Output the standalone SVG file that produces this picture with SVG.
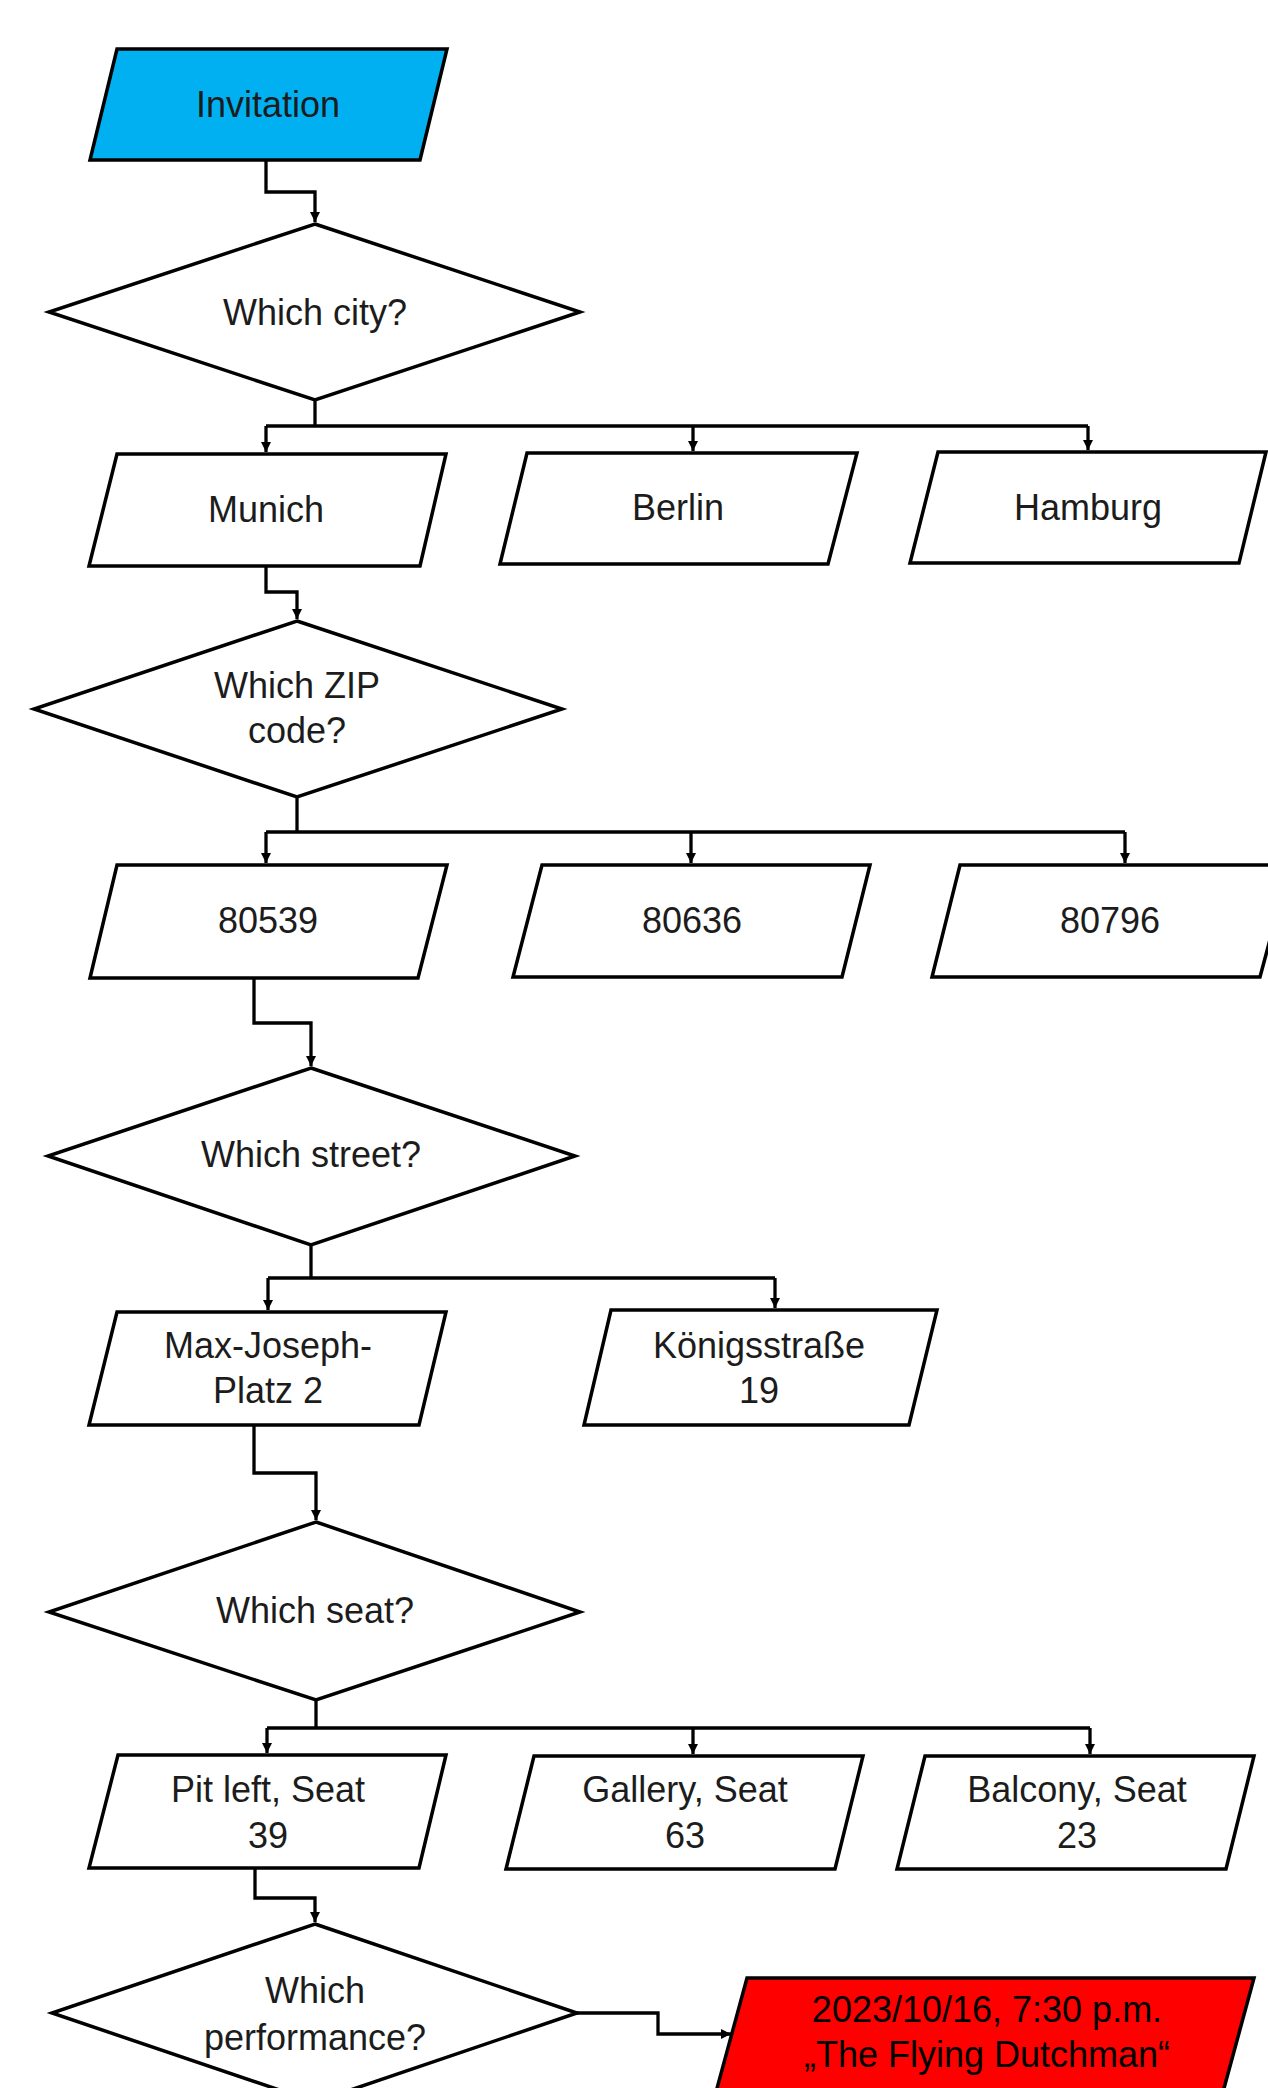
<svg xmlns="http://www.w3.org/2000/svg" width="1268" height="2088" viewBox="0 0 1268 2088">
<style>
.shape{fill:#fff;stroke:#000;stroke-width:3.5;stroke-linejoin:miter}
.blue{fill:#00B0F0}
.red{fill:#FF0000}
.conn{fill:none;stroke:#000;stroke-width:3.3}
.t{font-family:"Liberation Sans",Arial,sans-serif;font-size:36px;fill:#1c1c1c;text-anchor:middle}
.tb{fill:#000}
</style>
<defs>
<marker id="arr" viewBox="0 0 10 10" refX="10" refY="5" markerWidth="11" markerHeight="10" markerUnits="userSpaceOnUse" orient="auto">
<path d="M0,0 L10,5 L0,10 z" fill="#000"/>
</marker>
</defs>
<rect width="1268" height="2088" fill="#fff"/>
<g id="connectors">
<path class="conn" d="M266,160 V192 H315 V222" marker-end="url(#arr)"/>
<path class="conn" d="M315,400 V426"/>
<path class="conn" d="M266,426 H1088"/>
<path class="conn" d="M266,426 V452" marker-end="url(#arr)"/>
<path class="conn" d="M693,426 V451" marker-end="url(#arr)"/>
<path class="conn" d="M1088,426 V450" marker-end="url(#arr)"/>
<path class="conn" d="M266,566 V592 H297 V619" marker-end="url(#arr)"/>
<path class="conn" d="M297,797 V832"/>
<path class="conn" d="M266,832 H1125"/>
<path class="conn" d="M266,832 V863" marker-end="url(#arr)"/>
<path class="conn" d="M691,832 V863" marker-end="url(#arr)"/>
<path class="conn" d="M1125,832 V863" marker-end="url(#arr)"/>
<path class="conn" d="M254,978 V1023 H311 V1066" marker-end="url(#arr)"/>
<path class="conn" d="M311,1245 V1278"/>
<path class="conn" d="M268,1278 H775"/>
<path class="conn" d="M268,1278 V1310" marker-end="url(#arr)"/>
<path class="conn" d="M775,1278 V1308" marker-end="url(#arr)"/>
<path class="conn" d="M254,1425 V1473 H316 V1520" marker-end="url(#arr)"/>
<path class="conn" d="M316,1700 V1728"/>
<path class="conn" d="M267,1728 H1090"/>
<path class="conn" d="M267,1728 V1753" marker-end="url(#arr)"/>
<path class="conn" d="M693,1728 V1754" marker-end="url(#arr)"/>
<path class="conn" d="M1090,1728 V1754" marker-end="url(#arr)"/>
<path class="conn" d="M255,1868 V1898 H315 V1922" marker-end="url(#arr)"/>
<path class="conn" d="M577,2013 H658 V2034 H731" marker-end="url(#arr)"/>
</g>
<g id="invitation">
<polygon class="shape blue" points="117,49 447,49 420,160 90,160"/>
<text class="t" x="268" y="117">Invitation</text>
</g>
<g id="which-city">
<polygon class="shape" points="315,224 580,312 315,400 49,312"/>
<text class="t" x="315" y="325">Which city?</text>
</g>
<g id="munich">
<polygon class="shape" points="117,454 446,454 420,566 89,566"/>
<text class="t" x="266" y="522">Munich</text>
</g>
<g id="berlin">
<polygon class="shape" points="527,453 857,453 828,564 500,564"/>
<text class="t" x="678" y="520">Berlin</text>
</g>
<g id="hamburg">
<polygon class="shape" points="938,452 1266,452 1239,563 910,563"/>
<text class="t" x="1088" y="520">Hamburg</text>
</g>
<g id="which-zip">
<polygon class="shape" points="297,621 562,709 297,797 34,709"/>
<text class="t" x="297" y="698">Which ZIP</text>
<text class="t" x="297" y="743">code?</text>
</g>
<g id="zip-80539">
<polygon class="shape" points="117,865 447,865 418,978 90,978"/>
<text class="t" x="268" y="933">80539</text>
</g>
<g id="zip-80636">
<polygon class="shape" points="542,865 870,865 842,977 513,977"/>
<text class="t" x="692" y="933">80636</text>
</g>
<g id="zip-80796">
<polygon class="shape" points="960,865 1290,865 1260,977 932,977"/>
<text class="t" x="1110" y="933">80796</text>
</g>
<g id="which-street">
<polygon class="shape" points="311,1068 575,1156 311,1245 48,1156"/>
<text class="t" x="311" y="1167">Which street?</text>
</g>
<g id="max-joseph">
<polygon class="shape" points="117,1312 446,1312 419,1425 89,1425"/>
<text class="t" x="268" y="1358">Max-Joseph-</text>
<text class="t" x="268" y="1403">Platz 2</text>
</g>
<g id="koenigsstrasse">
<polygon class="shape" points="611,1310 937,1310 909,1425 584,1425"/>
<text class="t" x="759" y="1358">Königsstraße</text>
<text class="t" x="759" y="1403">19</text>
</g>
<g id="which-seat">
<polygon class="shape" points="316,1522 580,1612 316,1700 49,1612"/>
<text class="t" x="315" y="1623">Which seat?</text>
</g>
<g id="pit-left">
<polygon class="shape" points="118,1755 446,1755 419,1868 89,1868"/>
<text class="t" x="268" y="1802">Pit left, Seat</text>
<text class="t" x="268" y="1848">39</text>
</g>
<g id="gallery">
<polygon class="shape" points="534,1756 863,1756 835,1869 506,1869"/>
<text class="t" x="685" y="1802">Gallery, Seat</text>
<text class="t" x="685" y="1848">63</text>
</g>
<g id="balcony">
<polygon class="shape" points="925,1756 1254,1756 1226,1869 897,1869"/>
<text class="t" x="1077" y="1802">Balcony, Seat</text>
<text class="t" x="1077" y="1848">23</text>
</g>
<g id="which-performance">
<polygon class="shape" points="315,1924 577,2013 315,2102 52,2013"/>
<text class="t" x="315" y="2003">Which</text>
<text class="t" x="315" y="2050">performance?</text>
</g>
<g id="performance-result">
<polygon class="shape red" points="747,1978 1254,1978 1223,2092 716,2092"/>
<text class="t tb" x="987" y="2022">2023/10/16, 7:30 p.m.</text>
<text class="t tb" x="987" y="2067">„The Flying Dutchman“</text>
</g>
</svg>
